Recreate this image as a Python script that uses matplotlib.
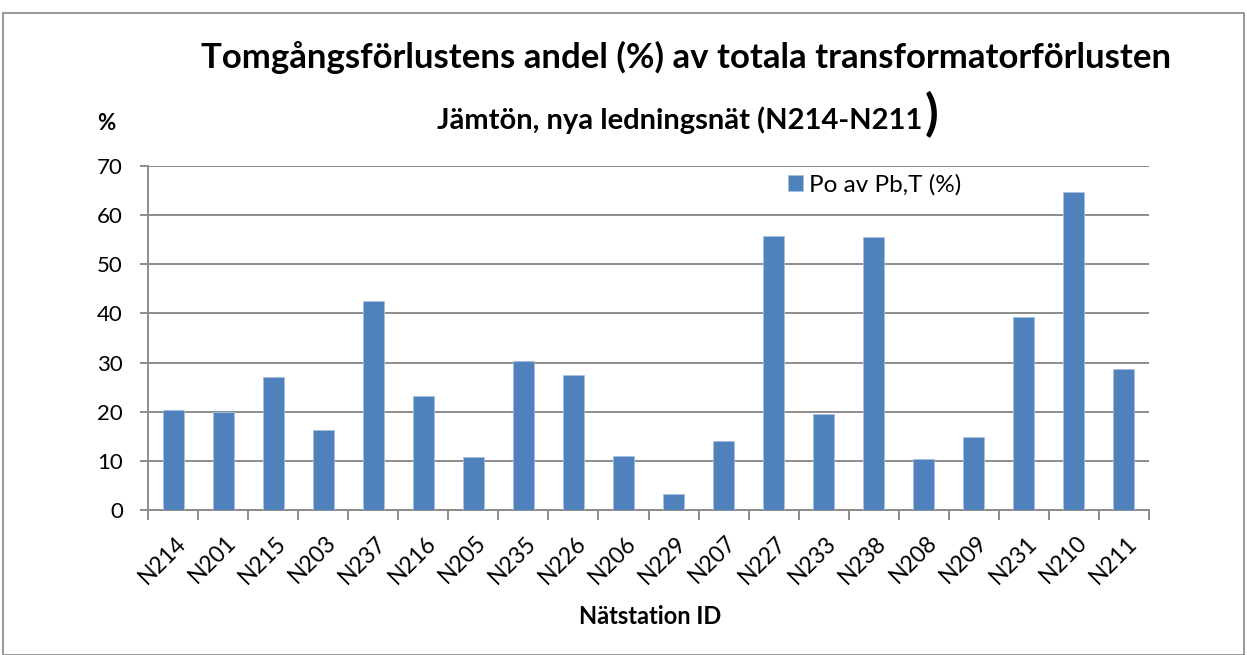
import matplotlib
matplotlib.use("Agg")
import matplotlib.pyplot as plt
from matplotlib.patches import Rectangle
import numpy as np

categories = ["N214", "N201", "N215", "N203", "N237", "N216", "N205", "N235", "N226", "N206",
              "N229", "N207", "N227", "N233", "N238", "N208", "N209", "N231", "N210", "N211"]
values = [20.3, 19.9, 27.0, 16.2, 42.6, 23.1, 10.7, 30.3, 27.4, 11.0,
          3.3, 14.1, 55.8, 19.5, 55.6, 10.4, 14.8, 39.3, 64.7, 28.7]
yticks = [0, 10, 20, 30, 40, 50, 60, 70]
series_name = "Po av Pb,T (%)"

plt.rcParams['font.family'] = ['Lato', 'DejaVu Sans']

W, H = 1247, 655
fig = plt.figure(figsize=(W / 100, H / 100), dpi=100)
fig.patches.append(Rectangle((3 / W, 0), (W - 6) / W, (H - 12 - 1) / H, transform=fig.transFigure,
                             fill=False, edgecolor='#878787', linewidth=1.2))

left, right, top, bottom = 148, 1149, 166, 510
ax = fig.add_axes([left / W, 1 - bottom / H, (right - left) / W, (bottom - top) / H])

x = np.arange(len(categories))
ax.bar(x, values, width=0.42, color='#4F81BD', edgecolor='#A7C0DE', linewidth=0.6, zorder=3,
       label=series_name)
ax.set_xlim(-0.5, len(categories) - 0.5)
ax.set_ylim(0, 70)
ax.set_yticks(yticks)
ax.set_yticklabels([str(v) for v in yticks], fontsize=16)
ax.yaxis.grid(True, color='#8C8C8C', linewidth=1.4, zorder=0)
ax.set_axisbelow(True)
for s in ['top', 'right']:
    ax.spines[s].set_visible(False)
for s in ['left', 'bottom']:
    ax.spines[s].set_color('#8C8C8C')
    ax.spines[s].set_linewidth(1.4)
ax.tick_params(axis='y', length=6, width=1.4, color='#8C8C8C', pad=12)

# category ticks at boundaries
ax.set_xticks(np.arange(len(categories) + 1) - 0.5)
ax.set_xticklabels([])
ax.tick_params(axis='x', length=7, width=1.4, color='#8C8C8C')
for i, c in enumerate(categories):
    ax.annotate(c, xy=(i, 0), xycoords=('data', 'axes fraction'), xytext=(2, -22),
                textcoords='offset pixels', rotation=45, ha='right', va='top',
                fontsize=16.5, rotation_mode='anchor')

fig.text(686 / W, 1 - 57 / H, "Tomgångsförlustens andel (%) av totala transformatorförlusten",
         ha='center', va='center', fontsize=25, fontweight='bold')
sub = fig.text(437 / W, 1 - 120 / H, "Jämtön, nya ledningsnät (N214-N211",
               ha='left', va='center', fontsize=21, fontweight='bold')
fig.canvas.draw()
bb = sub.get_window_extent()
fig.text((bb.x1 + 2) / W, 1 - 115 / H, ")", ha='left', va='center', fontsize=36,
         fontweight='bold')
fig.text(106 / W, 1 - 124 / H, "%", ha='center', va='center', fontsize=16, fontweight='bold')
fig.text(650 / W, 1 - 617 / H, "Nätstation ID", ha='center', va='center', fontsize=17,
         fontweight='bold')

leg = fig.legend(loc='upper left', bbox_to_anchor=(788 / W, 1 - 174 / H),
                 bbox_transform=fig.transFigure, frameon=False, borderpad=0, borderaxespad=0,
                 fontsize=17.5, handlelength=0.62, handleheight=0.62, handletextpad=0.25)

fig.savefig("out.png", dpi=100)
